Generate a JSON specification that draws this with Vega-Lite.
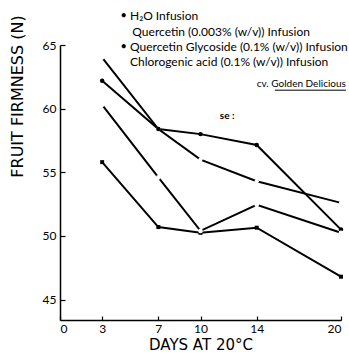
{
  "$schema": "https://vega.github.io/schema/vega-lite/v6.json",
  "autosize": {"type": "none"},
  "width": 281,
  "height": 275,
  "padding": {"left": 60, "top": 45, "right": 8, "bottom": 37},
  "background": "white",
  "config": {
    "view": {"stroke": null},
    "font": "Lato",
    "axis": {"domainColor": "black", "domainWidth": 1.5, "tickColor": "black", "tickWidth": 1.2, "grid": false, "labelColor": "black", "titleColor": "black", "labelFont": "Lato", "titleFont": "DejaVu Sans", "titleFontWeight": "normal"}
  },
  "datasets": {
    "series": [
      {"day": 3, "firmness": 55.8, "treatment": "H₂O Infusion"},
      {"day": 7, "firmness": 50.7, "treatment": "H₂O Infusion"},
      {"day": 10, "firmness": 50.25, "treatment": "H₂O Infusion"},
      {"day": 14, "firmness": 50.65, "treatment": "H₂O Infusion"},
      {"day": 20, "firmness": 46.8, "treatment": "H₂O Infusion"},
      {"day": 3, "firmness": 64.0, "treatment": "Quercetin (0.003% (w/v)) Infusion"},
      {"day": 7, "firmness": 58.4, "treatment": "Quercetin (0.003% (w/v)) Infusion"},
      {"day": 10, "firmness": 56.0, "treatment": "Quercetin (0.003% (w/v)) Infusion"},
      {"day": 14, "firmness": 54.3, "treatment": "Quercetin (0.003% (w/v)) Infusion"},
      {"day": 20, "firmness": 52.6, "treatment": "Quercetin (0.003% (w/v)) Infusion"},
      {"day": 3, "firmness": 62.2, "treatment": "Quercetin Glycoside (0.1% (w/v)) Infusion"},
      {"day": 7, "firmness": 58.4, "treatment": "Quercetin Glycoside (0.1% (w/v)) Infusion"},
      {"day": 10, "firmness": 58.0, "treatment": "Quercetin Glycoside (0.1% (w/v)) Infusion"},
      {"day": 14, "firmness": 57.15, "treatment": "Quercetin Glycoside (0.1% (w/v)) Infusion"},
      {"day": 20, "firmness": 50.5, "treatment": "Quercetin Glycoside (0.1% (w/v)) Infusion"},
      {"day": 3, "firmness": 60.3, "treatment": "Chlorogenic acid (0.1% (w/v)) Infusion"},
      {"day": 7, "firmness": 54.6, "treatment": "Chlorogenic acid (0.1% (w/v)) Infusion"},
      {"day": 10, "firmness": 50.4, "treatment": "Chlorogenic acid (0.1% (w/v)) Infusion"},
      {"day": 14, "firmness": 52.45, "treatment": "Chlorogenic acid (0.1% (w/v)) Infusion"},
      {"day": 20, "firmness": 50.25, "treatment": "Chlorogenic acid (0.1% (w/v)) Infusion"}
    ],
    "key": [
      {"day": 4.98, "firmness": 67.27, "label": "H₂O  Infusion", "bullet": true},
      {"day": 5.15, "firmness": 66.05, "label": "Quercetin (0.003% (w/v)) Infusion", "bullet": false},
      {"day": 4.98, "firmness": 64.85, "label": "Quercetin  Glycoside (0.1% (w/v)) Infusion", "bullet": true},
      {"day": 4.98, "firmness": 63.67, "label": "Chlorogenic  acid (0.1% (w/v)) Infusion", "bullet": false}
    ],
    "cv": [
      {"day": 20.35, "firmness": 61.95, "label": "cv. Golden Delicious"}
    ],
    "se": [
      {"day": 11.9, "firmness": 59.4, "label": "se :"}
    ],
    "underline": [
      {"day": 15.3, "day2": 20.35, "firmness": 61.45}
    ]
  },
  "encoding": {
    "x": {"field": "day", "type": "quantitative", "scale": {"domain": [0, 20], "nice": false, "zero": false},
      "axis": {"values": [0, 3, 7, 10, 14, 20], "tickSize": -4, "labelPadding": 7, "labelFontSize": 12, "title": "DAYS AT 20°C", "titleFontSize": 15, "titlePadding": 3}},
    "y": {"field": "firmness", "type": "quantitative", "scale": {"domain": [43.4, 65], "nice": false, "zero": false},
      "axis": {"values": [45, 50, 55, 60, 65], "tickSize": -5, "labelPadding": 9, "labelFontSize": 12, "title": "FRUIT FIRMNESS (N)", "titleFontSize": 16, "titleY": 51, "titleX": -43, "titleAngle": -90, "titleAlign": "center", "titleBaseline": "middle"}}
  },
  "layer": [
    {
      "data": {"name": "series"},
      "mark": {"type": "line", "color": "black", "strokeWidth": 2},
      "encoding": {"detail": {"field": "treatment"}}
    },
    {
      "data": {"name": "series"},
      "mark": {"type": "point", "filled": true, "strokeWidth": 0, "opacity": 1},
      "encoding": {
        "shape": {"field": "treatment", "type": "nominal", "legend": null,
          "scale": {"domain": ["H₂O Infusion", "Quercetin (0.003% (w/v)) Infusion", "Quercetin Glycoside (0.1% (w/v)) Infusion", "Chlorogenic acid (0.1% (w/v)) Infusion"], "range": ["square", "circle", "circle", "circle"]}},
        "fill": {"field": "treatment", "type": "nominal", "legend": null,
          "scale": {"domain": ["H₂O Infusion", "Quercetin (0.003% (w/v)) Infusion", "Quercetin Glycoside (0.1% (w/v)) Infusion", "Chlorogenic acid (0.1% (w/v)) Infusion"], "range": ["black", "white", "black", "white"]}},
        "size": {"field": "treatment", "type": "nominal", "legend": null,
          "scale": {"domain": ["H₂O Infusion", "Quercetin (0.003% (w/v)) Infusion", "Quercetin Glycoside (0.1% (w/v)) Infusion", "Chlorogenic acid (0.1% (w/v)) Infusion"], "range": [16, 22, 14, 22]}}
      }
    },
    {
      "data": {"name": "key"},
      "mark": {"type": "text", "font": "Lato", "fontSize": 12, "color": "black", "align": "left", "baseline": "middle"},
      "encoding": {"text": {"field": "label"}}
    },
    {
      "data": {"name": "key"},
      "transform": [{"filter": "datum.bullet"}],
      "mark": {"type": "text", "font": "Lato", "fontSize": 11, "color": "black", "align": "right", "baseline": "middle", "dx": -3},
      "encoding": {"text": {"value": "•"}}
    },
    {
      "data": {"name": "cv"},
      "mark": {"type": "text", "font": "Lato", "fontSize": 10, "color": "black", "align": "right", "baseline": "middle"},
      "encoding": {"text": {"field": "label"}}
    },
    {
      "data": {"name": "se"},
      "mark": {"type": "text", "font": "Lato", "fontSize": 10, "fontWeight": "bold", "color": "black", "align": "center", "baseline": "middle"},
      "encoding": {"text": {"field": "label"}}
    },
    {
      "data": {"name": "underline"},
      "mark": {"type": "rule", "color": "black", "strokeWidth": 1},
      "encoding": {"x2": {"field": "day2"}}
    }
  ]
}
